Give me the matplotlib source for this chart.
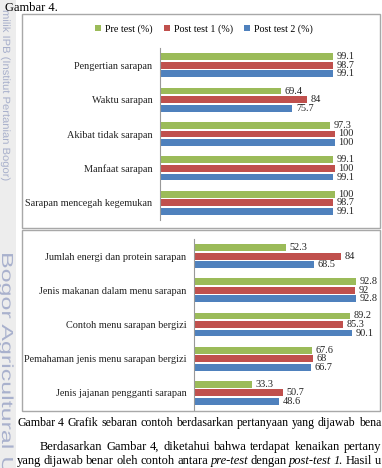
import matplotlib
matplotlib.use("Agg")
import matplotlib.pyplot as plt
from matplotlib.patches import Rectangle, PathPatch
from matplotlib.textpath import TextPath
from matplotlib.font_manager import FontProperties
from matplotlib.transforms import Affine2D
import numpy as np

# data
series_names = ["Pre test (%)", "Post test 1 (%)", "Post test 2 (%)"]
colors = ["#9BBB59", "#C0504D", "#4F81BD"]

top_labels = ["Pengertian sarapan", "Waktu sarapan", "Akibat tidak sarapan",
              "Manfaat sarapan", "Sarapan mencegah kegemukan"]
top_pre = [99.1, 69.4, 97.3, 99.1, 100]
top_post1 = [98.7, 84, 100, 100, 98.7]
top_post2 = [99.1, 75.7, 100, 99.1, 99.1]

bottom_labels = ["Jumlah energi dan protein sarapan", "Jenis makanan dalam menu sarapan",
                 "Contoh menu sarapan bergizi", "Pemahaman jenis menu sarapan bergizi",
                 "Jenis jajanan pengganti sarapan"]
bottom_pre = [52.3, 92.8, 89.2, 67.6, 33.3]
bottom_post1 = [84, 92, 85.3, 68, 50.7]
bottom_post2 = [68.5, 92.8, 90.1, 66.7, 48.6]

W, H = 382, 468
SERIF = "Liberation Serif"

fig = plt.figure(figsize=(W / 100, H / 100), dpi=100)
fig.patch.set_facecolor("white")
renderer = fig.canvas.get_renderer()


def box(l, t, r, b):
    # pixel box -> figure fractions
    return [l / W, 1 - b / H, (r - l) / W, (b - t) / H]


def draw_chart(ax, labels, groups):
    y = np.arange(len(labels))
    bars = []
    for k, (vals, c) in enumerate(zip(groups, colors)):
        pos = y + (k - 1) * 0.25
        b = ax.barh(pos, vals, height=0.2, color=c, label=series_names[k])
        bars.append(b)
        for p, v in zip(pos, vals):
            ax.annotate(f"{v:g}", (v, p), xytext=(2.5, 0), textcoords="offset points",
                        ha="left", va="center", fontsize=7.4, family=SERIF,
                        color="#222222", annotation_clip=False)
    ax.set_xlim(0, 100)
    ax.set_ylim(len(labels) - 0.5, -0.5)
    ax.set_yticks(y)
    ax.set_yticklabels(labels, fontsize=7.4, family=SERIF, color="#222222")
    ax.tick_params(axis="y", length=0, pad=5.5)
    ax.set_xticks([])
    for s in ["top", "right", "bottom"]:
        ax.spines[s].set_visible(False)
    ax.spines["left"].set_color("#999999")
    ax.spines["left"].set_linewidth(0.8)
    ax.patch.set_alpha(0)
    return bars


def justified(x0, x1, y, words, size, italic=()):
    # spread words so the line runs from x0 to x1 (pixels)
    texts = []
    for i, w in enumerate(words):
        texts.append(fig.text(0, 1 - y / H, w, fontsize=size, family=SERIF,
                              style="italic" if i in italic else "normal", va="center"))
    widths = [t.get_window_extent(renderer).width for t in texts]
    gap = (x1 - x0 - sum(widths)) / (len(words) - 1)
    x = x0
    for t, w in zip(texts, widths):
        t.set_x(x / W)
        x += w + gap


def watermark(s, x0, y0, along, across, color):
    # stretched vertical text, reads top to bottom, pixel units
    tp = TextPath((0, 0), s, size=1, prop=FontProperties(family="Liberation Sans"))
    tr = Affine2D().scale(along, across).rotate_deg(-90).translate(x0, H - y0)
    fig.add_artist(PathPatch(tp, transform=tr, facecolor=color, edgecolor="none"))


# gray scan margin and chart frames
fig.add_artist(Rectangle((0, 0), 16 / W, 1, transform=fig.transFigure,
                         facecolor="#EDEDED", edgecolor="none", zorder=0))
for l, t, r, b in [(22, 14, 380, 228), (22, 230, 380, 411)]:
    fig.add_artist(Rectangle((l / W, 1 - b / H), (r - l) / W, (b - t) / H,
                             transform=fig.transFigure, facecolor="none",
                             edgecolor="#A8A8A8", lw=1.0))

ax1 = fig.add_axes(box(160, 48, 335, 220))
bars = draw_chart(ax1, top_labels, [top_pre, top_post1, top_post2])
ax2 = fig.add_axes(box(194, 239, 369, 410))
draw_chart(ax2, bottom_labels, [bottom_pre, bottom_post1, bottom_post2])

fig.legend(handles=bars, labels=series_names, loc="center",
           bbox_to_anchor=(204 / W, 1 - 29 / H), ncol=3, frameon=False,
           prop={"family": SERIF, "size": 7.2}, handlelength=0.6, handleheight=0.6,
           handletextpad=0.4, columnspacing=1.1)

# surrounding page text
fig.text(5 / W, 1 - 8 / H, "Gambar 4.", fontsize=9, family=SERIF, va="center", ha="left")
justified(17, 381, 423, "Gambar 4 Grafik sebaran contoh berdasarkan pertanyaan yang dijawab bena".split(), 8.6)
justified(40, 381, 447, "Berdasarkan Gambar 4, diketahui bahwa terdapat kenaikan pertany".split(), 9)
justified(17, 381, 461, "yang dijawab benar oleh contoh antara pre-test dengan post-test 1. Hasil u".split(), 9,
          italic=(6, 8, 9))

# watermark in the margin
watermark("milik IPB (Institut Pertanian Bogor)", 3, 10, 11.2, 10.5, "#A7AFCB")
watermark("Bogor Agricultural University", 2, 252, 25, 16, "#A9B1CD")

fig.savefig("out.png", dpi=100)
